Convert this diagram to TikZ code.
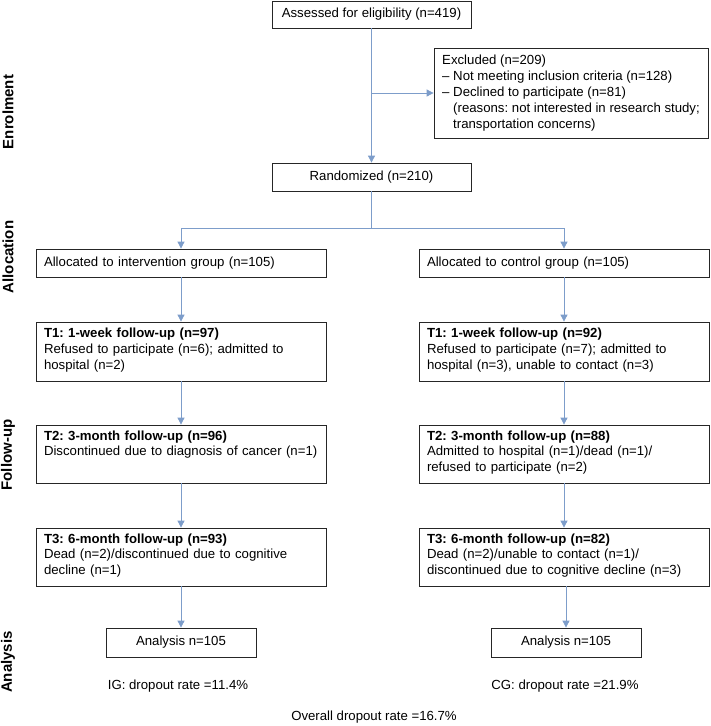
\documentclass[tikz,border=0pt]{standalone}
\usepackage{fontspec}
\setmainfont{Liberation Sans}
\usetikzlibrary{arrows.meta}
\definecolor{flowblue}{RGB}{125,157,202}
\frenchspacing
\newcommand{\fubody}[1]{\parbox[c][47pt][t]{\linewidth}{\raggedright #1}}
\tikzset{
  box/.style={draw=black!85, line width=0.8pt, inner xsep=8pt, inner ysep=0pt, align=left},
  cbox/.style={draw=black!85, line width=0.8pt, inner sep=0pt, align=center},
  phase/.style={rotate=90, font=\fontsize{15}{17}\selectfont\bfseries},
  arr/.style={draw=flowblue, line width=0.8pt, -{Triangle[width=7pt,length=7pt]}},
  lin/.style={draw=flowblue, line width=0.8pt}
}
\begin{document}
\begin{tikzpicture}[x=1pt,y=-1pt,font=\fontsize{13.2}{15.8}\selectfont]
\useasboundingbox (0,0) rectangle (710,726);
% phases
\node[phase] (enrol) at (8,112) {Enrolment};
\node[phase] (alloc) at (8,257) {Allocation};
\node[phase] (follow) at (8,455) {Follow-up};
\node[phase] (analys) at (8,662) {Analysis};
% enrolment
\node[cbox, minimum width=199pt, minimum height=27pt] (assess) at (371.5,14.5) {Assessed for eligibility (n=419)};
\node[box, inner xsep=0pt, minimum width=274pt, minimum height=90pt] (excl) at (571,93) {Excluded (n=209)\\
  -- Not meeting inclusion criteria (n=128)\\
  -- Declined to participate (n=81)\\
  \phantom{-- }(reasons: not interested in research study;\\
  \phantom{-- }transportation concerns)};
\node[cbox, minimum width=199pt, minimum height=28pt] (rand) at (371.5,177) {Randomized (n=210)};
% allocation
\node[box, text width=274pt, minimum height=28pt] (allocig) at (181,263) {Allocated to intervention group (n=105)};
\node[box, text width=274pt, minimum height=28pt] (alloccg) at (564,263) {Allocated to control group (n=105)};
% follow-up, intervention
\node[box, text width=274pt, minimum height=59pt] (tig1) at (181,351.5) {\fubody{\textbf{T1: 1-week follow-up (n=97)}\\
  Refused to participate (n=6); admitted to\\ hospital (n=2)}};
\node[box, text width=274pt, minimum height=58pt] (tig2) at (181,454) {\fubody{\textbf{T2: 3-month follow-up (n=96)}\\
  Discontinued due to diagnosis of cancer (n=1)}};
\node[box, text width=274pt, minimum height=58pt] (tig3) at (181,557) {\fubody{\textbf{T3: 6-month follow-up (n=93)}\\
  Dead (n=2)/discontinued due to cognitive\\ decline (n=1)}};
% follow-up, control
\node[box, text width=274pt, minimum height=59pt] (tcg1) at (564,351.5) {\fubody{\textbf{T1: 1-week follow-up (n=92)}\\
  Refused to participate (n=7); admitted to\\ hospital (n=3), unable to contact (n=3)}};
\node[box, text width=274pt, minimum height=58pt] (tcg2) at (564,454) {\fubody{\textbf{T2: 3-month follow-up (n=88)}\\
  Admitted to hospital (n=1)/dead (n=1)/\\ refused to participate (n=2)}};
\node[box, text width=274pt, minimum height=58pt] (tcg3) at (564,557) {\fubody{\textbf{T3: 6-month follow-up (n=82)}\\
  Dead (n=2)/unable to contact (n=1)/\\ discontinued due to cognitive decline (n=3)}};
% analysis
\node[cbox, minimum width=150pt, minimum height=29pt] (anaig) at (181,642.5) {Analysis n=105};
\node[cbox, minimum width=150pt, minimum height=29pt] (anacg) at (566,642.5) {Analysis n=105};
\node (dropig) at (178,686) {IG: dropout rate =11.4\%};
\node (dropcg) at (565,686) {CG: dropout rate =21.9\%};
\node (dropall) at (374,717) {Overall dropout rate =16.7\%};
% connectors
\coordinate (exclsplit) at (assess.south |- excl.west);
\coordinate (randsplit) at (371.5,228);
\draw[arr] (assess.south) -- (rand.north);
\draw[arr] (exclsplit) -- (excl.west);
\draw[lin] (rand.south) -- (randsplit);
\draw[arr] (randsplit) -| (allocig.north);
\draw[arr] (randsplit) -| (alloccg.north);
\draw[arr] (allocig) -- (tig1);
\draw[arr] (tig1) -- (tig2);
\draw[arr] (tig2) -- (tig3);
\draw[arr] (tig3) -- (anaig);
\draw[arr] (alloccg) -- (tcg1);
\draw[arr] (tcg1) -- (tcg2);
\draw[arr] (tcg2) -- (tcg3);
\draw[arr] (tcg3.south -| anacg) -- (anacg);
\end{tikzpicture}
\end{document}
